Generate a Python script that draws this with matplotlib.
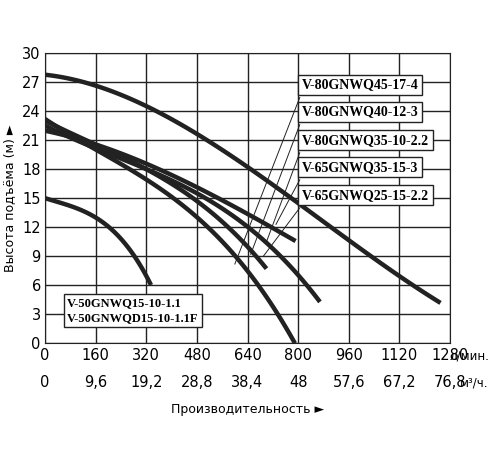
import matplotlib
matplotlib.use("Agg")
import matplotlib.pyplot as plt
import numpy as np

xt = [0,160,320,480,640,800,960,1120,1280]
xt2 = ["0","9,6","19,2","28,8","38,4","48","57,6","67,2","76,8"]
yt = list(range(0,31,3))

curves = {
 "A": ([0,160,320,480,640,800,960,1120,1250],[28,26.3,24.3,21.8,18.6,14.6,10.5,6.5,4.5]),
 "C1": ([0,160,320,480,640,792],[22,20.5,18.6,16.2,13.3,10.6]),
 "C2": ([0,160,320,480,640,700],[23,20.6,18,14.6,10.2,7.6]),
 "C3": ([0,160,320,480,640,800,869],[22.5,20.2,18,15.5,12,7.2,4.2]),
 "C4": ([0,160,320,480,640,790],[23.2,20,17,13,7.5,0]),
 "S": ([0,100,200,280,335],[15,14,12,9.2,6]),
}
labels = ["V-80GNWQ45-17-4","V-80GNWQ40-12-3","V-80GNWQ35-10-2.2","V-65GNWQ35-15-3","V-65GNWQ25-15-2.2"]
label_y = [26.7,23.9,21.0,18.2,15.3]
leader_end = [(600,8.2),(650,9.2),(700,10.5),(730,12.3),(690,9.0)]

fig = plt.figure(figsize=(5,4.5), dpi=100)
ax = fig.add_axes([0.09,0.237,0.81,0.645])
for k,(x,y) in curves.items():
    xs = np.linspace(x[0],x[-1],100)
    p = np.polyfit(x,y,min(3,len(x)-1))
    ax.plot(xs, np.polyval(p,xs), color="#222", lw=3.2, solid_capstyle="butt", zorder=3)
ax.set_xlim(0,1280); ax.set_ylim(0,30)
ax.set_xticks(xt); ax.set_yticks(yt)
ax.grid(True, color="#222", lw=1)
for s in ax.spines.values(): s.set_color("#222")
ax.tick_params(length=0, labelsize=10.5, pad=3)
ax.set_xticklabels([str(v) for v in xt])
for v,l in zip(xt,xt2):
    ax.text(v, -0.11, l, transform=ax.get_xaxis_transform(), ha="center", va="top", fontsize=10.5)
ax.text(1.0,-0.045,"л/мин.",transform=ax.transAxes,fontsize=8.5,va="center",ha="left")
ax.text(1.025,-0.135,"м³/ч.",transform=ax.transAxes,fontsize=8.5,va="center")
ax.text(0.5,-0.24,"Производительность ►",transform=ax.transAxes,ha="center",fontsize=9)
ax.set_ylabel("Высота подъёма (м) ►", fontsize=9, labelpad=4)
bbox = dict(boxstyle="square,pad=0.25", fc="white", ec="#222", lw=1)
for lab,y,(ex,ey) in zip(labels,label_y,leader_end):
    ax.plot([805,ex],[y-1.3,ey],color="#222",lw=0.7,zorder=2)
    ax.text(812,y,lab,fontsize=10,fontweight="bold",family="Liberation Serif",va="center",bbox=bbox,zorder=5,clip_on=False)
ax.text(70,3.4,"V-50GNWQ15-10-1.1\nV-50GNWQD15-10-1.1F",fontsize=9,fontweight="bold",family="Liberation Serif",va="center",bbox=bbox,zorder=5,linespacing=1.4)
fig.savefig("out.png")
